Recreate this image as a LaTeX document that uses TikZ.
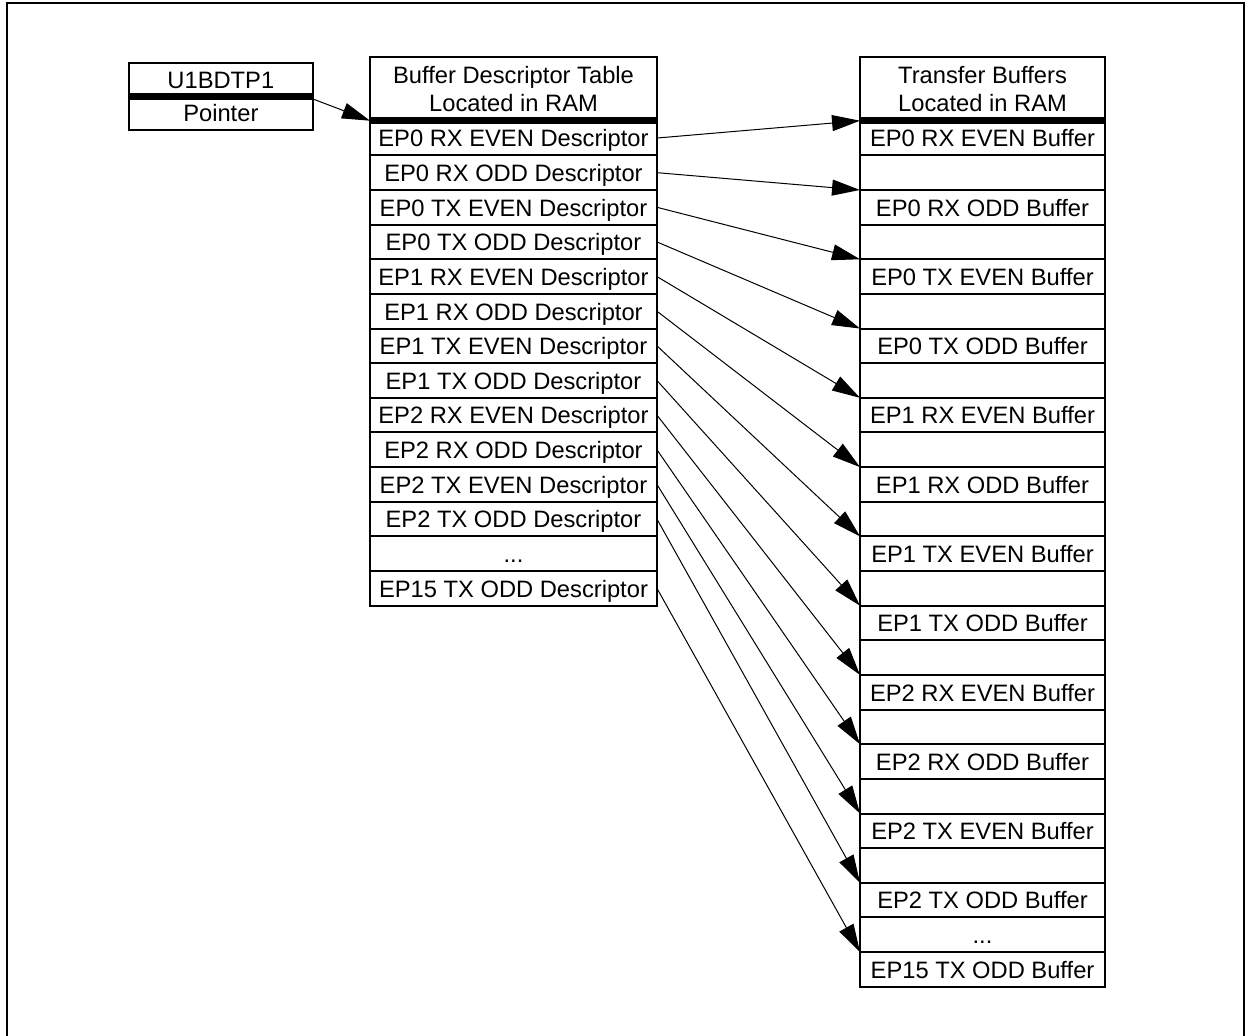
\documentclass[tikz,border=0pt]{standalone}
\usepackage{fontspec}
\setmainfont{Liberation Sans}
\usetikzlibrary{arrows.meta}
\tikzset{
  cell/.style={draw, line width=0.04cm, inner sep=0pt, outer sep=0pt,
    font=\fontsize{13.5pt}{16.45pt}\selectfont, align=center},
  rowcell/.style={cell, text height=10.6pt, text depth=0.6pt},
  pcell/.style={rowcell, minimum width=3.674cm},
  dcell/.style={rowcell, minimum width=5.74cm, minimum height=0.6928cm},
  bcell/.style={rowcell, minimum width=4.9cm, minimum height=0.6928cm},
  dhead/.style={cell, minimum width=5.74cm, minimum height=1.268cm},
  bhead/.style={cell, minimum width=4.9cm, minimum height=1.268cm},
  conn/.style={line width=0.02cm, -{Triangle[length=0.56cm, width=0.32cm]}},
  sepline/.style={line width=0.14cm},
  frameline/.style={line width=0.05cm}
}
\begin{document}
\begin{tikzpicture}[x=0.02cm,y=-0.02cm]
\useasboundingbox (0,0) rectangle (1246,1035);
\draw[frameline] (7,1045) -- (7,3) -- (1244,3) -- (1244,1045);

% pointer register
\node[pcell, minimum height=0.668cm] (pu) at (220.85,79.7) {U1BDTP1};
\node[pcell, minimum height=0.684cm] (pp) at (220.85,113.0) {Pointer};
\draw[sepline] (pu.south west) -- (pu.south east);

% buffer descriptor table
\node[dhead] (dh) at (513.5,89) {Buffer Descriptor Table\\Located in RAM};
\foreach \lab [count=\i from 0] in {EP0 RX EVEN,EP0 RX ODD,EP0 TX EVEN,EP0 TX ODD,EP1 RX EVEN,EP1 RX ODD,EP1 TX EVEN,EP1 TX ODD,EP2 RX EVEN,EP2 RX ODD,EP2 TX EVEN,EP2 TX ODD}{
  \pgfmathsetmacro\yy{120.7+34.64*(\i+0.5)}
  \node[dcell] (d\i) at (513.5,\yy) {\lab{} Descriptor};
}
\node[dcell] (d12) at (513.5,{120.7+34.64*12.5}) {...};
\node[dcell] (d13) at (513.5,{120.7+34.64*13.5}) {EP15 TX ODD Descriptor};
\draw[sepline] (dh.south west) -- (dh.south east);

% transfer buffers
\node[bhead] (bh) at (982.5,89) {Transfer Buffers\\Located in RAM};
\foreach \lab [count=\i from 0] in {EP0 RX EVEN,EP0 RX ODD,EP0 TX EVEN,EP0 TX ODD,EP1 RX EVEN,EP1 RX ODD,EP1 TX EVEN,EP1 TX ODD,EP2 RX EVEN,EP2 RX ODD,EP2 TX EVEN,EP2 TX ODD}{
  \pgfmathtruncatemacro\k{2*\i}
  \pgfmathsetmacro\yy{120.7+34.64*(\k+0.5)}
  \node[bcell] (b\k) at (982.5,\yy) {\lab{} Buffer};
}
\foreach \k in {1,3,...,21}{
  \pgfmathsetmacro\yy{120.7+34.64*(\k+0.5)}
  \node[bcell] (b\k) at (982.5,\yy) {};
}
\node[bcell] (b23) at (982.5,{120.7+34.64*23.5}) {...};
\node[bcell] (b24) at (982.5,{120.7+34.64*24.5}) {EP15 TX ODD Buffer};
\draw[sepline] (bh.south west) -- (bh.south east);

% connectors
\draw[conn] ([yshift=-0.06cm]pp.north east) -- (dh.south west);
\foreach \i in {0,...,11}{
  \pgfmathtruncatemacro\k{2*\i}
  \draw[conn] (d\i.east) -- (b\k.north west);
}
\draw[conn] (d13.east) -- (b24.north west);
\end{tikzpicture}
\end{document}
